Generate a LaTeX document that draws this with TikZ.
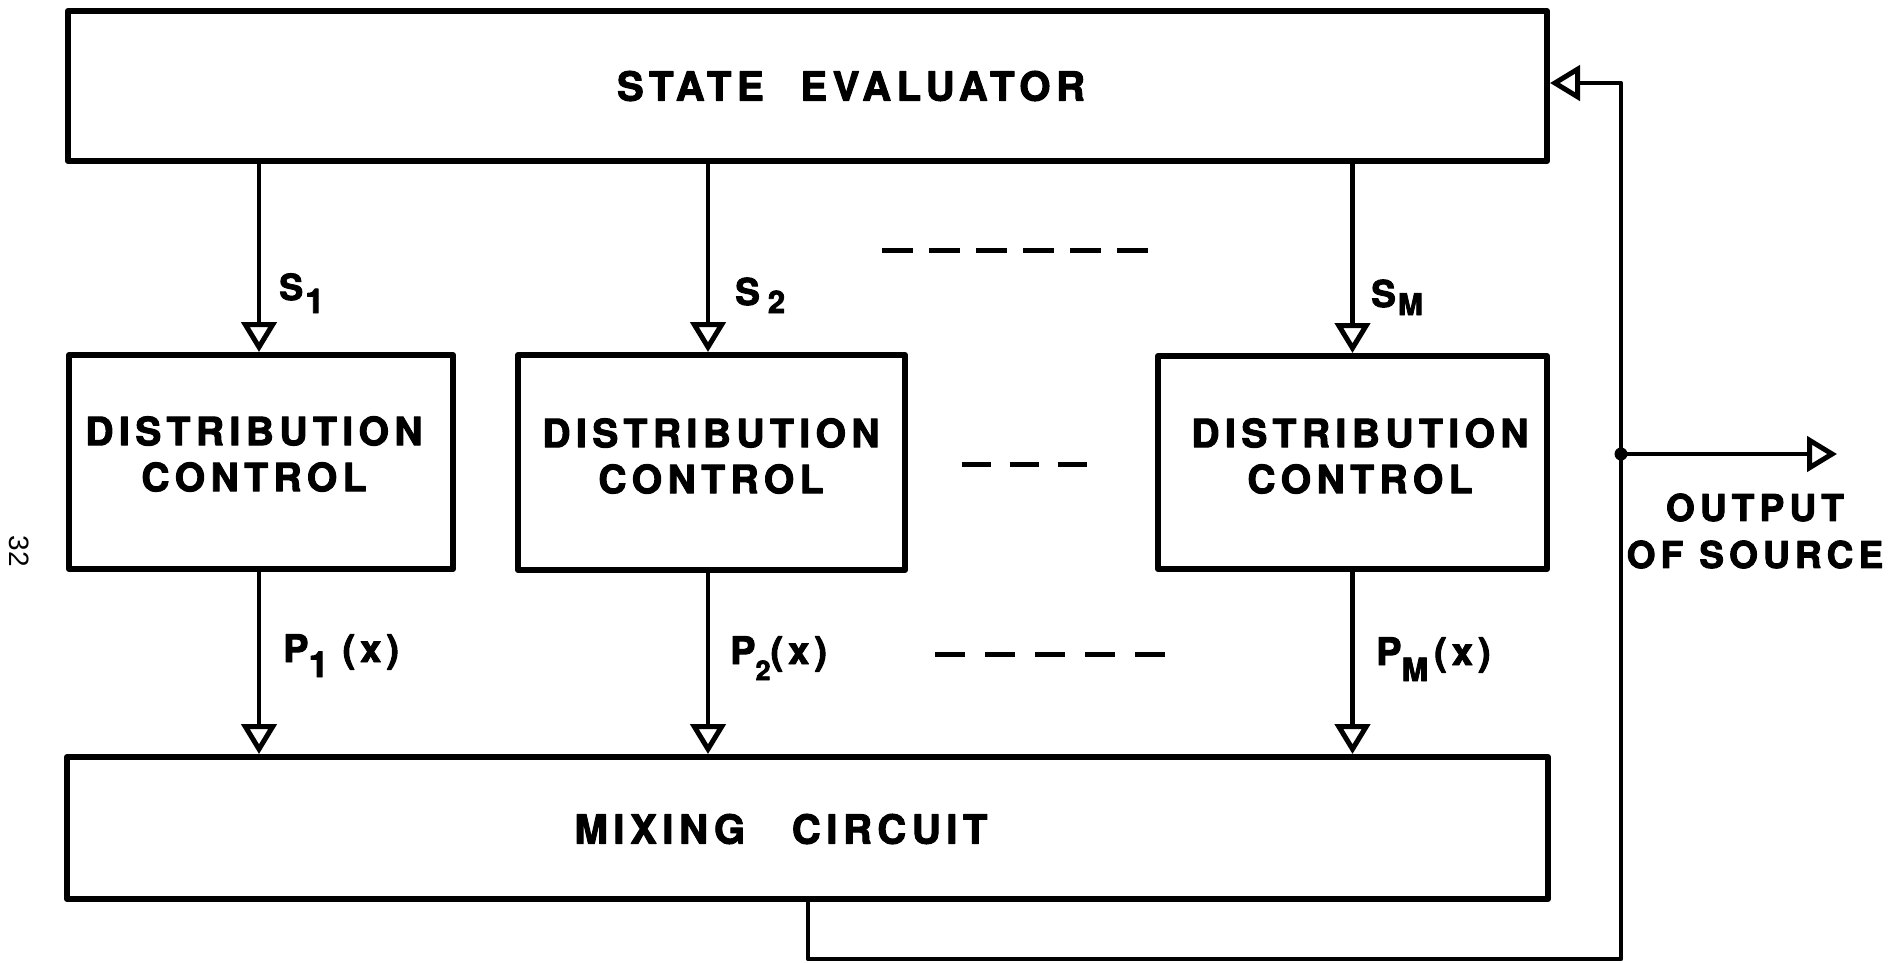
\documentclass[tikz,border=0pt]{standalone}
\usepackage{fontspec}
\newfontfamily\lettering[LetterSpace=14, BoldFeatures={FakeBold=2.5}]{TeX Gyre Heros}
\newfontfamily\plainsans{Liberation Sans}
\usetikzlibrary{arrows.meta}
% lowered index for signal names: #1 size, #2 drop, #3 text
\newcommand\lsub[3]{\raisebox{-#2pt}{\fontsize{#1}{#1}\selectfont #3}}
\begin{document}
\begin{tikzpicture}[x=1pt,y=-1pt,
  line join=round,
  block/.style={draw, line width=6pt, inner sep=0pt},
  bigcaption/.style={font=\lettering\bfseries\fontsize{40}{46}\selectfont, inner sep=0pt, align=center},
  caption/.style={font=\lettering\bfseries\fontsize{39}{46}\selectfont, inner sep=0pt, align=center},
  outcaption/.style={font=\lettering\bfseries\fontsize{37}{47}\selectfont, inner sep=0pt, align=center},
  tag/.style={font=\lettering\bfseries, inner sep=0pt, anchor=base west},
  openhead/.style={-{Triangle[open, length=30pt, width=35pt, line width=5pt]}},
  wire/.style={line width=4.5pt},
  dotrow/.style={line width=5pt},
]
\useasboundingbox (0,0) rectangle (1898,962);

% blocks
\node[block, minimum width=1479pt, minimum height=150pt] (se) at (807.5,86) {};
\node[block, minimum width=384pt, minimum height=214pt] (dc1) at (261,462) {};
\node[block, minimum width=387pt, minimum height=215pt] (dc2) at (711.5,462.5) {};
\node[block, minimum width=389pt, minimum height=213pt] (dc3) at (1352.5,462.5) {};
\node[block, minimum width=1481pt, minimum height=142pt] (mix) at (807.5,828) {};

% block captions
\node[bigcaption] (setext) at (851,86) {STATE\hspace{20pt} EVALUATOR};
\node[bigcaption] (mixtext) at (781,829) {MIXING\hspace{30pt} CIRCUIT};
\node[caption] (dc1text) at (254,454) {DISTRIBUTION\\CONTROL};
\node[caption] (dc2text) at (711,456) {DISTRIBUTION\\CONTROL};
\node[caption] (dc3text) at (1360,456) {DISTRIBUTION\\CONTROL};

% state signals
\draw[wire, openhead] ([xshift=-2pt]dc1.north |- se.south) -- ([xshift=-2pt]dc1.north);
\draw[wire, openhead] ([xshift=-3.5pt]dc2.north |- se.south) -- ([xshift=-3.5pt]dc2.north);
\draw[wire, openhead] (dc3.north |- se.south) -- (dc3.north);
\node[tag, font=\lettering\bfseries\fontsize{36}{36}\selectfont] (s1) at (279,300) {S\hspace{2pt}\lsub{34}{13}{1}};
\node[tag, font=\lettering\bfseries\fontsize{37}{37}\selectfont] (s2) at (735,305) {S\hspace{8pt}\lsub{31}{8}{2}};
\node[tag, font=\lettering\bfseries\fontsize{37}{37}\selectfont] (sm) at (1371,307) {S\hspace{2pt}\lsub{30}{8}{M}};

% distributions
\draw[wire, openhead] ([xshift=-2pt]dc1.south) -- ([xshift=-2pt]dc1.south |- mix.north);
\draw[wire, openhead] ([xshift=-3.5pt]dc2.south) -- ([xshift=-3.5pt]dc2.south |- mix.north);
\draw[wire, openhead] (dc3.south) -- (dc3.south |- mix.north);
\node[tag, font=\lettering\bfseries\fontsize{38}{38}\selectfont] (p1) at (283,662) {P\lsub{36}{15}{1}\hspace{14pt}(\hspace{5pt}x\hspace{5pt})};
\node[tag, font=\lettering\bfseries\fontsize{38}{38}\selectfont] (p2) at (730,664) {P\lsub{27}{16}{2}(\hspace{5pt}x\hspace{5pt})};
\node[tag, font=\lettering\bfseries\fontsize{38}{38}\selectfont] (pm) at (1376,665) {P\lsub{32}{16}{M}\hspace{6pt}(\hspace{5pt}x\hspace{5pt})};

% omitted channels
\draw[dotrow, dash pattern=on 31pt off 16pt] (882,250) -- (1148,250);
\draw[dotrow, dash pattern=on 29pt off 19pt] (962,464) -- (1087,464);
\draw[dotrow, dash pattern=on 30pt off 20pt] (935,654) -- (1165,654);

% output and feedback loop
\coordinate (loopcorner) at (1621,959);
\node[circle, fill, minimum size=13pt, inner sep=0pt] (tap) at (1621,454) {};
\coordinate (outend) at (1837,454);
\draw[wire] ([xshift=0.5pt]mix.south) |- (loopcorner) -- (tap.center);
\draw[wire, openhead] (tap.center) |- ([yshift=3pt]se.east);
\draw[wire, openhead] (tap.center) -- (outend);
\node[outcaption] (outtext) at (1755,531) {OUTPUT\\OF\hspace{16pt}SOURCE};

% page number
\node[rotate=-90, font=\plainsans\fontsize{28}{28}\selectfont, inner sep=0pt] (pageno) at (19,551) {32};
\end{tikzpicture}
\end{document}
